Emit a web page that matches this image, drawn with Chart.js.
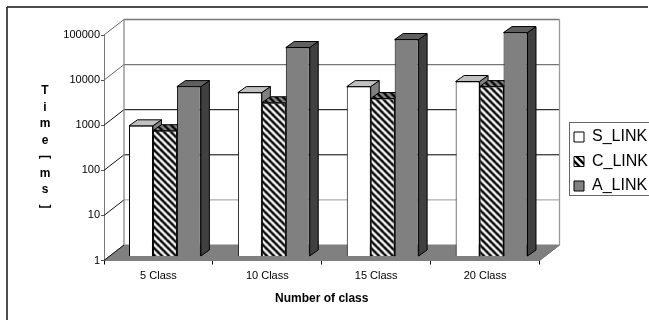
<!DOCTYPE html>
<html>
<head>
<meta charset="utf-8">
<style>
  html, body { margin: 0; padding: 0; background: #fff; overflow: hidden; }
  canvas { display: block; }
</style>
<script src="https://cdn.jsdelivr.net/npm/chart.js@4/dist/chart.umd.min.js"></script>
</head>
<body>
<canvas id="link-chart" width="649" height="320"></canvas>
<script>
// Data
const categories = ['5 Class', '10 Class', '15 Class', '20 Class'];
const sLink = [770, 4200, 5700, 7400];
const cLink = [600, 2500, 3100, 5700];
const aLink = [5700, 42000, 63000, 90000];
const yTicks = [1, 10, 100, 1000, 10000, 100000];
const yTitle = 'Time [ms]';

const FONT = '"Liberation Sans", Arial, sans-serif';

// Depth of the box behind the axes and of each bar
const WALL = { x: 20, y: -15.5 };
const BAR_SHIFT = { x: 6.5, y: -4.5 };
const BAR_DEPTH = { x: 8.5, y: -6 };

// Diagonal hatch tile for the C_LINK bars
function hatch(dark, light) {
    const size = 7;
    const tile = document.createElement('canvas');
    tile.width = size;
    tile.height = size;
    const c = tile.getContext('2d');
    c.fillStyle = light;
    c.fillRect(0, 0, size, size);
    c.strokeStyle = dark;
    c.lineWidth = 2.5;
    [-size, 0, size].forEach(off => {
        c.beginPath();
        c.moveTo(off - 1, -1);
        c.lineTo(off + size + 1, size + 1);
        c.stroke();
    });
    return c.createPattern(tile, 'repeat');
}

const ctx = document.getElementById('link-chart').getContext('2d');

function poly(c, pts, fill, stroke) {
    c.beginPath();
    pts.forEach((p, i) => i ? c.lineTo(p[0], p[1]) : c.moveTo(p[0], p[1]));
    c.closePath();
    c.fillStyle = fill;
    c.fill();
    c.strokeStyle = stroke;
    c.lineWidth = 1;
    c.stroke();
}

function line(c, x1, y1, x2, y2, color, width) {
    c.beginPath();
    c.moveTo(x1, y1);
    c.lineTo(x2, y2);
    c.strokeStyle = color;
    c.lineWidth = width;
    c.stroke();
}

// Outer frame, stacked axis title and legend box
const framePlugin = {
    id: 'frame',
    beforeDraw(chart) {
        const c = chart.ctx;
        c.save();
        c.fillStyle = '#fff';
        c.fillRect(0, 0, chart.width, chart.height);
        line(c, 7, 7, 648, 7, '#111', 1.3);
        line(c, 7, 7, 7, 320, '#222', 1.6);
        c.restore();
    },
    afterLayout(chart) {
        // Legend sits outside the plot, past the right wall
        const l = chart.legend;
        const w = l.width, h = l.height;
        l.left = 565.5;
        l.top = 120.5;
        l.right = l.left + w;
        l.bottom = l.top + h;
    },
    afterDraw(chart) {
        const c = chart.ctx;
        c.save();
        c.strokeStyle = '#666';
        c.lineWidth = 1;
        c.strokeRect(569.5, 122.5, 100, 73);

        c.fillStyle = '#000';
        c.font = 'bold 12px ' + FONT;
        c.textAlign = 'center';
        c.textBaseline = 'middle';
        let y = 91;
        for (const ch of yTitle) {
            if (ch === ' ') {
                continue;
            }
            if (ch === '[' || ch === ']') {
                c.save();
                c.translate(45, y);
                c.rotate(Math.PI / 2);
                c.fillText(ch, 0, 0);
                c.restore();
            } else {
                c.fillText(ch, 45, y);
            }
            y += 16.5;
        }
        c.restore();
    }
};

// Box walls, floor and the 3D sides of the bars
const boxPlugin = {
    id: 'box',
    beforeDatasetsDraw(chart) {
        const c = chart.ctx;
        const { left, right, bottom } = chart.chartArea;
        const yScale = chart.scales.y;
        const top = yScale.getPixelForValue(yTicks[yTicks.length - 1]);
        const gridColors = ['#000', '#999', '#000', '#000', '#777', '#777'];

        c.save();
        // floor
        poly(c, [[left, bottom], [left + WALL.x, bottom + WALL.y], [right + WALL.x, bottom + WALL.y], [right, bottom]], '#808080', '#808080');

        // back wall grid and the diagonals on the side wall
        yTicks.forEach((v, i) => {
            const y = yScale.getPixelForValue(v);
            if (i > 0) {
                line(c, left + WALL.x, y + WALL.y, right + WALL.x, y + WALL.y, gridColors[i], i >= 4 ? 1.4 : 1);
            }
            line(c, left, y, left + WALL.x, y + WALL.y, i >= 4 ? '#666' : '#111', 1);
        });
        line(c, left + WALL.x, top + WALL.y, left + WALL.x, bottom + WALL.y, '#888', 1.3);
        line(c, right + WALL.x, top + WALL.y, right + WALL.x, bottom + WALL.y, '#999', 1.3);
        line(c, right, bottom, right + WALL.x, bottom + WALL.y, '#777', 1);

        c.translate(BAR_SHIFT.x, BAR_SHIFT.y);

        // bar sides and tops, left to right so the nearer front faces cover them
        chart.data.datasets.forEach((ds, di) => {
            chart.getDatasetMeta(di).data.forEach(bar => {
                const { x, y, base, width } = bar.getProps(['x', 'y', 'base', 'width'], true);
                const l = x - width / 2, r = x + width / 2;
                poly(c, [[r, y], [r + BAR_DEPTH.x, y + BAR_DEPTH.y], [r + BAR_DEPTH.x, base + BAR_DEPTH.y], [r, base]], ds.sideColor, '#000');
                poly(c, [[l, y], [l + BAR_DEPTH.x, y + BAR_DEPTH.y], [r + BAR_DEPTH.x, y + BAR_DEPTH.y], [r, y]], ds.topColor, '#000');
            });
        });
    },
    afterDatasetsDraw(chart) {
        chart.ctx.restore();
    }
};

const chart = new Chart(ctx, {
    type: 'bar',
    data: {
        labels: categories,
        datasets: [
            {
                label: 'S_LINK',
                data: sLink,
                backgroundColor: '#ffffff',
                topColor: '#c0c0c0',
                sideColor: '#808080'
            },
            {
                label: 'C_LINK',
                data: cLink,
                backgroundColor: hatch('#000000', '#ffffff'),
                topColor: hatch('#000000', '#909090'),
                sideColor: '#404040'
            },
            {
                label: 'A_LINK',
                data: aLink,
                backgroundColor: '#808080',
                topColor: '#606060',
                sideColor: '#404040'
            }
        ].map(ds => ({ ...ds, borderColor: '#000', borderWidth: 1, clip: false }))
    },
    options: {
        responsive: false,
        animation: false,
        events: [],
        categoryPercentage: 0.66,
        barPercentage: 1,
        layout: { padding: { left: 0, right: 109.5, top: 35, bottom: 0 } },
        plugins: {
            tooltip: { enabled: false },
            legend: {
                position: 'chartArea',
                align: 'start',
                labels: {
                    color: '#000',
                    boxWidth: 10,
                    boxHeight: 10,
                    padding: 8.5,
                    font: { family: FONT, size: 16 }
                }
            }
        },
        scales: {
            x: {
                afterFit: s => { s.height = 59.5; },
                grid: { drawOnChartArea: false, color: '#000', tickLength: 4 },
                border: { color: '#000' },
                ticks: { color: '#000', padding: 5, maxRotation: 0, font: { family: FONT, size: 11 } },
                title: {
                    display: true,
                    text: 'Number of class',
                    color: '#000',
                    font: { family: FONT, size: 12, weight: 'bold' },
                    padding: { top: 0, bottom: 14 }
                }
            },
            y: {
                type: 'logarithmic',
                min: 1,
                max: 100000,
                afterFit: s => { s.width = 104; },
                afterBuildTicks: s => { s.ticks = yTicks.map(v => ({ value: v })); },
                grid: { drawOnChartArea: false, color: '#555', tickLength: 3 },
                border: { color: '#777' },
                ticks: { color: '#000', padding: 1, callback: v => String(v), font: { family: FONT, size: 11 } }
            }
        }
    },
    plugins: [framePlugin, boxPlugin]
});
</script>
</body>
</html>
